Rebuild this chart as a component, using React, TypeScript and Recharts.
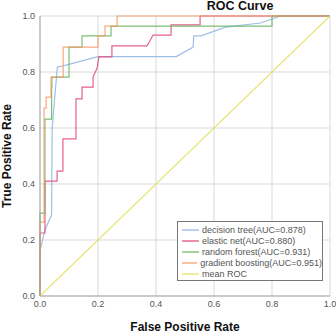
import React from 'react';
import { LineChart, Line, XAxis, YAxis, CartesianGrid } from 'recharts';

// [fpr, tpr] pairs
const decisionTree = [
  [0, 0], [0, 0.16], [0.017, 0.236], [0.04, 0.29], [0.042, 0.6], [0.05, 0.7],
  [0.06, 0.818], [0.08, 0.822], [0.2, 0.855], [0.47, 0.855], [0.528, 0.889],
  [0.53, 0.929], [0.555, 0.929], [0.64, 0.96], [0.76, 0.975], [0.83, 1], [1, 1],
];
const elasticNet = [
  [0, 0], [0, 0.225], [0.017, 0.225], [0.017, 0.41], [0.059, 0.41], [0.059, 0.446],
  [0.079, 0.446], [0.079, 0.561], [0.124, 0.561], [0.124, 0.704], [0.145, 0.704],
  [0.145, 0.746], [0.183, 0.746], [0.183, 0.782], [0.197, 0.814], [0.203, 0.854],
  [0.248, 0.854], [0.248, 0.893], [0.369, 0.893], [0.39, 0.932], [0.452, 0.932],
  [0.452, 0.968], [0.552, 0.968], [0.552, 1], [1, 1],
];
const randomForest = [
  [0, 0], [0, 0.296], [0.017, 0.296], [0.017, 0.632], [0.04, 0.632], [0.04, 0.743],
  [0.041, 0.743], [0.041, 0.782], [0.1, 0.782], [0.1, 0.889], [0.145, 0.889],
  [0.145, 0.929], [0.245, 0.929], [0.245, 0.964], [0.8, 0.964], [0.8, 1], [1, 1],
];
const gradientBoosting = [
  [0, 0], [0, 0.264], [0.014, 0.264], [0.014, 0.671], [0.021, 0.671], [0.021, 0.71],
  [0.038, 0.71], [0.038, 0.782], [0.08, 0.782], [0.08, 0.889], [0.2, 0.889],
  [0.2, 0.929], [0.224, 0.929], [0.224, 0.964], [0.266, 0.964], [0.266, 1], [1, 1],
];
const meanRoc = [[0, 0], [1, 1]];

const ticks = [0, 0.2, 0.4, 0.6, 0.8, 1];

const series = [
  { name: 'decision tree(AUC=0.878)', points: decisionTree, color: '#8db4e2' },
  { name: 'elastic net(AUC=0.880)', points: elasticNet, color: '#e0457a' },
  { name: 'random forest(AUC=0.931)', points: randomForest, color: '#64b45c' },
  { name: 'gradient boosting(AUC=0.951)', points: gradientBoosting, color: '#f49a66' },
  { name: 'mean ROC', points: meanRoc, color: '#e2e25e' },
];

const toRows = (pts: number[][]) => pts.map(([fpr, tpr]) => ({ fpr, tpr }));

const font = 'Arial, "Liberation Sans", sans-serif';

export default function App() {
  return (
    <div style={{ position: 'absolute', left: 0, top: 0, width: 336, height: 334, fontFamily: font }}>
      <LineChart width={336} height={334} margin={{ top: 16, right: 6, bottom: 0, left: 0 }}>
        <CartesianGrid stroke="#d9d9d9" strokeWidth={1} />
        <XAxis
          type="number"
          dataKey="fpr"
          domain={[0, 1]}
          ticks={ticks}
          tickFormatter={(v: number) => v.toFixed(1)}
          height={38}
          tickSize={0}
          tickMargin={5}
          axisLine={{ stroke: '#a8a8a8' }}
          tick={{ fontSize: 9, fill: '#555', fontFamily: font }}
          allowDuplicatedCategory={false}
        />
        <YAxis
          type="number"
          dataKey="tpr"
          domain={[0, 1]}
          ticks={ticks}
          tickFormatter={(v: number) => v.toFixed(1)}
          width={40}
          tickSize={0}
          tickMargin={5}
          axisLine={{ stroke: '#a8a8a8' }}
          tick={{ fontSize: 9, fill: '#555', fontFamily: font }}
        />
        {series.map((s) => (
          <Line
            key={s.name}
            data={toRows(s.points)}
            dataKey="tpr"
            type="linear"
            stroke={s.color}
            strokeWidth={1.2}
            strokeOpacity={0.85}
            dot={false}
            isAnimationActive={false}
          />
        ))}
      </LineChart>

      <div style={{ position: 'absolute', left: 180, width: 120, top: 0, textAlign: 'center', fontSize: 12.5, fontWeight: 'bold', color: '#111', lineHeight: '12px' }}>
        ROC Curve
      </div>
      <div style={{ position: 'absolute', left: 40, width: 290, top: 320, textAlign: 'center', fontSize: 12, fontWeight: 'bold', color: '#111', lineHeight: '14px' }}>
        False Positive Rate
      </div>
      <div
        style={{
          position: 'absolute', left: 7, top: 156, width: 140, textAlign: 'center', fontSize: 12,
          fontWeight: 'bold', color: '#111', lineHeight: '14px',
          transform: 'translate(-50%, -50%) rotate(-90deg)',
        }}
      >
        True Positive Rate
      </div>

      <div
        style={{
          position: 'absolute', left: 177, top: 221, width: 146, height: 60,
          border: '1px solid #777', background: '#fff', paddingTop: 2, boxSizing: 'border-box',
        }}
      >
        {series.map((s) => (
          <div key={s.name} style={{ display: 'flex', alignItems: 'center', height: 11.2, fontSize: 9, color: '#555', whiteSpace: 'nowrap' }}>
            <svg width={17} height={4} style={{ marginLeft: 4 }}>
              <line x1={0} y1={2} x2={17} y2={2} stroke={s.color} strokeWidth={1.2} />
            </svg>
            <span style={{ marginLeft: 3 }}>{s.name}</span>
          </div>
        ))}
      </div>
    </div>
  );
}
